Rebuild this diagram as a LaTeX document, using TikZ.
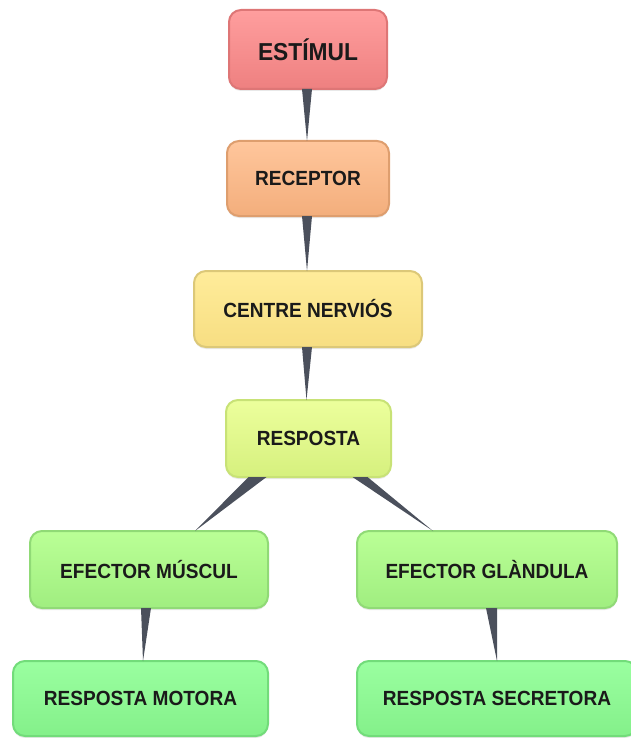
\documentclass[tikz,border=0pt]{standalone}
\usepackage{fontspec}
\setmainfont{Liberation Sans}
\newfontfamily\boxfont{Liberation Sans}[FakeStretch=0.93]
\usetikzlibrary{calc,shadows}
\definecolor{wedgec}{HTML}{4B505C}
\definecolor{txt}{HTML}{1A1A1A}
\tikzset{
  box/.style={rounded corners=12pt, line width=2pt, align=center, inner sep=0pt,
    font=\boxfont\bfseries\fontsize{20.5}{24}\selectfont, text=txt,
    drop shadow={opacity=0.18, shadow xshift=0pt, shadow yshift=-2pt}},
  estbox/.style={box, top color={rgb,255:red,255;green,158;blue,158}, bottom color={rgb,255:red,238;green,128;blue,128}, draw={rgb,255:red,222;green,118;blue,118}},
  recbox/.style={box, top color={rgb,255:red,255;green,198;blue,156}, bottom color={rgb,255:red,243;green,174;blue,124}, draw={rgb,255:red,222;green,158;blue,110}},
  cenbox/.style={box, top color={rgb,255:red,255;green,236;blue,154}, bottom color={rgb,255:red,247;green,222;blue,130}, draw={rgb,255:red,220;green,200;blue,120}},
  resbox/.style={box, top color={rgb,255:red,236;green,255;blue,156}, bottom color={rgb,255:red,214;green,240;blue,126}, draw={rgb,255:red,200;green,226;blue,118}},
  efbox/.style={box, top color={rgb,255:red,186;green,255;blue,150}, bottom color={rgb,255:red,160;green,238;blue,128}, draw={rgb,255:red,144;green,218;blue,118}},
  rbox/.style={box, top color={rgb,255:red,154;green,255;blue,160}, bottom color={rgb,255:red,132;green,240;blue,138}, draw={rgb,255:red,114;green,220;blue,122}},
  wedge/.style={fill=wedgec}
}
\begin{document}
\begin{tikzpicture}[x=1pt,y=-1pt]
\useasboundingbox (0,0) rectangle (631,738);
\clip (0,0) rectangle (631,738);

\node[estbox, minimum width=158pt, minimum height=79pt, font=\boxfont\bfseries\fontsize{24.5}{28}\selectfont] (est) at (308,49.5) {ESTÍMUL};
\node[recbox, minimum width=162pt, minimum height=75pt] (rec) at (308,178.5) {RECEPTOR};
\node[cenbox, minimum width=228pt, minimum height=76pt] (cen) at (308,309) {CENTRE NERVIÓS};
\node[resbox, minimum width=165pt, minimum height=77pt] (res) at (308.5,438.5) {RESPOSTA};
\node[efbox, minimum width=238pt, minimum height=77pt] (efm) at (149,569.5) {EFECTOR MÚSCUL};
\node[efbox, minimum width=260pt, minimum height=77pt] (efg) at (487,569.5) {EFECTOR GLÀNDULA};
\node[rbox, minimum width=255pt, minimum height=75pt] (rm) at (140.5,698.5) {RESPOSTA MOTORA};
\node[rbox, minimum width=280pt, minimum height=75pt] (rs) at (497,698.5) {RESPOSTA SECRETORA};

\fill[wedge] ($(est.south)+(-6,-1)$) -- ($(est.south)+(4,-1)$) -- ($(rec.north)+(-1,1)$) -- cycle;
\fill[wedge] ($(rec.south)+(-6,-1)$) -- ($(rec.south)+(4,-1)$) -- ($(cen.north)+(-1,1)$) -- cycle;
\fill[wedge] ($(cen.south)+(-6,-1)$) -- ($(cen.south)+(4,-1)$) -- ($(res.north)+(-2,1)$) -- cycle;
\fill[wedge] ($(res.south)+(-60,-1)$) -- ($(res.south)+(-42,-1)$) -- ($(efm.north)+(46,1)$) -- cycle;
\fill[wedge] ($(res.south)+(44,-1)$) -- ($(res.south)+(59,-1)$) -- ($(efg.north)+(-54,1)$) -- cycle;
\fill[wedge] ($(efm.south)+(-8,-1)$) -- ($(efm.south)+(2,-1)$) -- ($(rm.north)+(2.5,1)$) -- cycle;
\fill[wedge] ($(efg.south)+(-1,-1)$) -- ($(efg.south)+(10,-1)$) -- ($(rs.north)+(0,1)$) -- cycle;
\end{tikzpicture}
\end{document}
